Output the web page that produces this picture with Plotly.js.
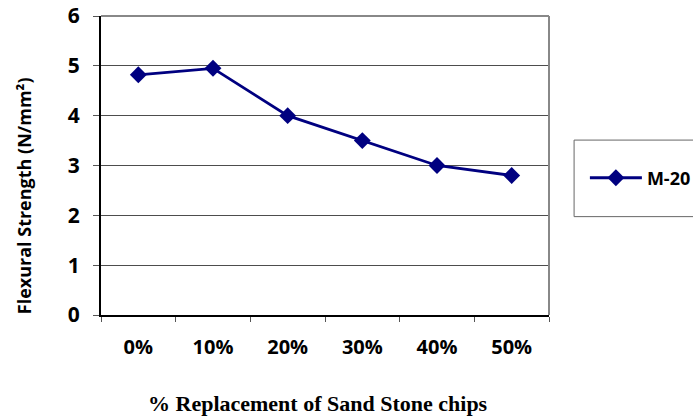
<!DOCTYPE html>
<html>
<head>
<meta charset="utf-8">
<script src="https://cdn.plot.ly/plotly-3.0.1.min.js"></script>
<style>html,body{margin:0;padding:0;background:#fff;}#chart{width:693px;height:417px;}</style>
</head>
<body>
<div id="chart"></div>
<script>
const categories = ["0%", "10%", "20%", "30%", "40%", "50%"];
const m20Values = [4.82, 4.95, 4.0, 3.5, 3.0, 2.8];
const seriesName = "M-20";
const yTickValues = [0, 1, 2, 3, 4, 5, 6];
const yTitle = "Flexural Strength (N/mm²)";
const xTitle = "% Replacement of Sand Stone chips";

const sansBold = "'Open Sans', 'Liberation Sans', Arial, sans-serif";

const trace = {
  x: categories,
  y: m20Values,
  name: seriesName,
  type: "scatter",
  mode: "lines+markers",
  line: {color: "#000080", width: 2.8},
  marker: {symbol: "diamond", size: 13, color: "#000080"}
};

const layout = {
  width: 693,
  height: 417,
  margin: {l: 101, r: 144, t: 16, b: 102, autoexpand: false},
  paper_bgcolor: "#ffffff",
  plot_bgcolor: "#ffffff",
  showlegend: true,
  legend: {
    xref: "container", yref: "container",
    x: 0.844, y: 0.573, xanchor: "left", yanchor: "middle",
    itemwidth: 52,
    bgcolor: "rgba(0,0,0,0)", borderwidth: 0,
    font: {family: sansBold, size: 18, color: "#000", weight: "bold"}
  },
  xaxis: {
    type: "category",
    range: [-0.5, 5.5],
    tickson: "boundaries",
    ticks: "outside",
    ticklen: 5,
    tickcolor: "#555",
    ticklabelstandoff: 13,
    showgrid: false,
    showline: true,
    linecolor: "#000",
    linewidth: 1.5,
    zeroline: false,
    tickfont: {family: sansBold, size: 20, color: "#000", weight: "bold"}
  },
  yaxis: {
    range: [0, 6],
    tickvals: yTickValues,
    ticks: "outside",
    ticklen: 6,
    tickcolor: "#555",
    ticklabelstandoff: 9,
    showgrid: true,
    gridcolor: "#4d4d4d",
    gridwidth: 1,
    showline: true,
    linecolor: "#000",
    linewidth: 2,
    zeroline: false,
    tickfont: {family: sansBold, size: 21, color: "#000", weight: "bold"}
  },
  annotations: [
    {text: yTitle, xref: "paper", yref: "paper", x: -0.17, y: 0.40, xanchor: "center", yanchor: "middle",
     textangle: -90, showarrow: false, font: {family: sansBold, size: 18, color: "#000", weight: "bold"}},
    {text: xTitle, xref: "paper", yref: "paper", x: 0.484, y: -0.295, xanchor: "center", yanchor: "middle",
     showarrow: false, font: {family: "'Liberation Serif', 'Times New Roman', 'DejaVu Serif', serif", size: 22, color: "#000", weight: "bold"}}
  ],
  shapes: [
    {type: "line", xref: "paper", yref: "paper", x0: 0, x1: 1, y0: 1, y1: 1, line: {color: "#888", width: 2}},
    {type: "line", xref: "paper", yref: "paper", x0: 1, x1: 1, y0: 0, y1: 1, line: {color: "#888", width: 2}},
    {type: "rect", xref: "paper", yref: "paper", x0: 1.056, x1: 1.4, y0: 0.329, y1: 0.585, line: {color: "#666", width: 1}, fillcolor: "rgba(0,0,0,0)"}
  ]
};

Plotly.newPlot("chart", [trace], layout, {displayModeBar: false, staticPlot: true});
</script>
</body>
</html>
